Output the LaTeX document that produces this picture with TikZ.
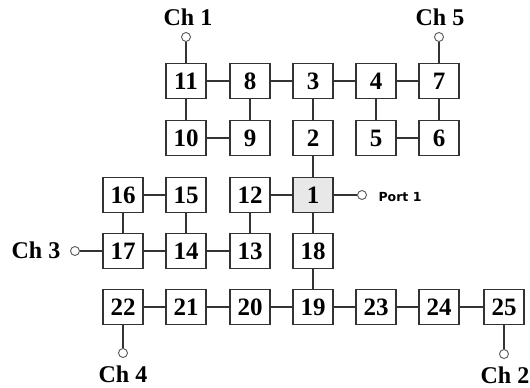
\documentclass[tikz,border=0pt]{standalone}
\usepackage{fontspec}
\setmainfont{Liberation Serif}
\newfontfamily\portfont{DejaVu Sans}
\begin{document}
\begin{tikzpicture}[x=1pt,y=-1pt,
  cell/.style={draw=black!80, line width=1.2pt, fill=white, minimum width=40pt, minimum height=35pt, inner sep=0pt, font=\fontsize{25}{25}\selectfont\bfseries},
  port/.style={circle, draw=black!65, line width=0.9pt, fill=white, minimum size=9pt, inner sep=0pt},
  lbl/.style={font=\fontsize{24}{24}\selectfont\bfseries, inner sep=0pt},
  wire/.style={draw=black!80, line width=1.3pt}]
\useasboundingbox (0,0) rectangle (530,388);
% row 1
\node[cell] (n11) at (186,81) {11};
\node[cell] (n8) at (250,81) {8};
\node[cell] (n3) at (313,81) {3};
\node[cell] (n4) at (376,81) {4};
\node[cell] (n7) at (439,81) {7};
% row 2
\node[cell] (n10) at (186,138) {10};
\node[cell] (n9) at (250,138) {9};
\node[cell] (n2) at (313,138) {2};
\node[cell] (n5) at (376,138) {5};
\node[cell] (n6) at (439,138) {6};
% row 3
\node[cell] (n16) at (123,195) {16};
\node[cell] (n15) at (186,195) {15};
\node[cell] (n12) at (250,195) {12};
\node[cell, fill=black!9] (n1) at (313,195) {1};
% row 4
\node[cell] (n17) at (123,251) {17};
\node[cell] (n14) at (186,251) {14};
\node[cell] (n13) at (250,251) {13};
\node[cell] (n18) at (313,251) {18};
% row 5
\node[cell] (n22) at (123,307) {22};
\node[cell] (n21) at (186,307) {21};
\node[cell] (n20) at (250,307) {20};
\node[cell] (n19) at (313,307) {19};
\node[cell] (n23) at (376,307) {23};
\node[cell] (n24) at (439,307) {24};
\node[cell] (n25) at (504,307) {25};
% ports
\node[port] (p1) at (186,37) {};
\node[port] (p5) at (439,37) {};
\node[port] (p3) at (75,251) {};
\node[port] (pp) at (362,195) {};
\node[port] (p4) at (123,353) {};
\node[port] (p2) at (504,354) {};
% labels
\node[lbl] (l1) at (188,17) {Ch 1};
\node[lbl] (l5) at (440,17) {Ch 5};
\node[lbl] (l3) at (36,250) {Ch 3};
\node[lbl] (l4) at (123,374) {Ch 4};
\node[lbl] (l2) at (505,375) {Ch 2};
\node[inner sep=0pt, font=\portfont\fontsize{12.5}{12.5}\selectfont\bfseries] (lp) at (400,197) {Port 1};
% wires
\path[wire] (n11) -- (n8) (n8) -- (n3) (n3) -- (n4) (n4) -- (n7)
  (n11) -- (n10) (n8) -- (n9) (n3) -- (n2) (n4) -- (n5) (n7) -- (n6)
  (n10) -- (n9) (n5) -- (n6)
  (n2) -- (n1) (n12) -- (n1) (n1) -- (pp) (n1) -- (n18)
  (n16) -- (n15) (n16) -- (n17) (n15) -- (n14) (n12) -- (n13)
  (p3) -- (n17) (n17) -- (n14) (n14) -- (n13)
  (n18) -- (n19)
  (n22) -- (n21) (n21) -- (n20) (n20) -- (n19) (n19) -- (n23) (n23) -- (n24) (n24) -- (n25)
  (n11) -- (p1) (n7) -- (p5) (n22) -- (p4) (n25) -- (p2);
\end{tikzpicture}
\end{document}
